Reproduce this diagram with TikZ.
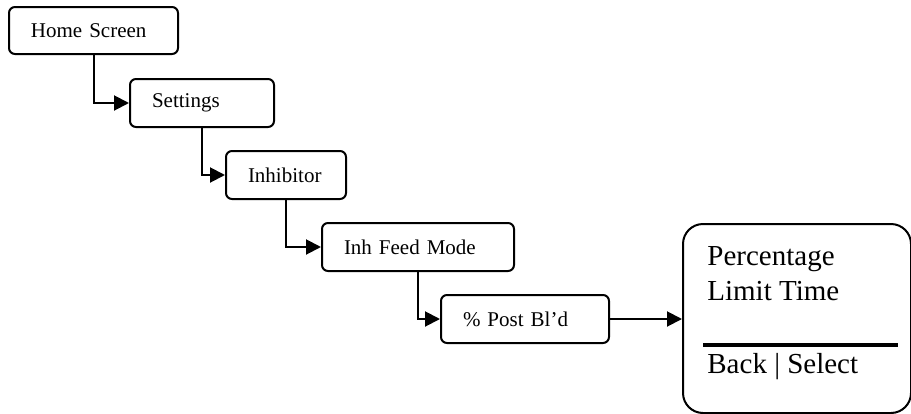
\documentclass[tikz,border=0pt]{standalone}
\usepackage{fontspec}
\setmainfont{Liberation Serif}
\usepackage{tikz}
\usetikzlibrary{arrows.meta}

\tikzset{
    menubox/.style = {draw, line width = 1pt, rounded corners = 3pt, anchor = north west,
        inner xsep = 11pt, inner ysep = 0pt, minimum height = 24pt, text width = #1,
        align = left, font = \fontsize{10.5}{12.6}\selectfont},
    screenbox/.style = {draw, line width = 1pt, rounded corners = 10pt, anchor = north west,
        inner sep = 0pt, minimum width = 114pt, minimum height = 94.5pt},
    screentext/.style = {anchor = base west, inner sep = 0pt, font = \fontsize{14.5}{18}\selectfont},
    link/.style = {line width = 1pt, -{Triangle[length = 7.5pt, width = 7.5pt]}},
}

\begin{document}
\begin{tikzpicture}[x = 0.5pt, y = -0.5pt]
        \useasboundingbox (0, 0) rectangle (911, 413);
        \clip (0, 0) rectangle (911, 413);

        \node[menubox = 62.5pt, minimum height = 23.5pt] (home) at (8, 6) {Home Screen};
        \node[menubox = 50pt] (settings) at (129, 78) {Settings};
        \node[menubox = 38pt] (inhibitor) at (225, 150) {Inhibitor};
        \node[menubox = 74pt] (feed) at (321, 222) {Inh Feed Mode};
        \node[menubox = 62pt] (post) at (440, 294) {\% Post Bl’d};

        \node[screenbox] (menu) at (682, 223) {};
        \node[screentext] (pct) at (707, 265) {Percentage};
        \node[screentext] (limit) at (707, 300) {Limit Time};
        \draw[line width = 2pt] (703, 345) -- (898, 345);
        \node[screentext] (keys) at (707, 373) {Back \textbar{} Select};

        \draw[link] (home.south) |- (settings.west);
        \draw[link] (settings.south) |- (inhibitor.west);
        \draw[link] (inhibitor.south) |- (feed.west);
        \draw[link] (feed.south) |- (post.west);
        \draw[link] (post.east) -- (post.east -| menu.west);
    \end{tikzpicture}
\end{document}
